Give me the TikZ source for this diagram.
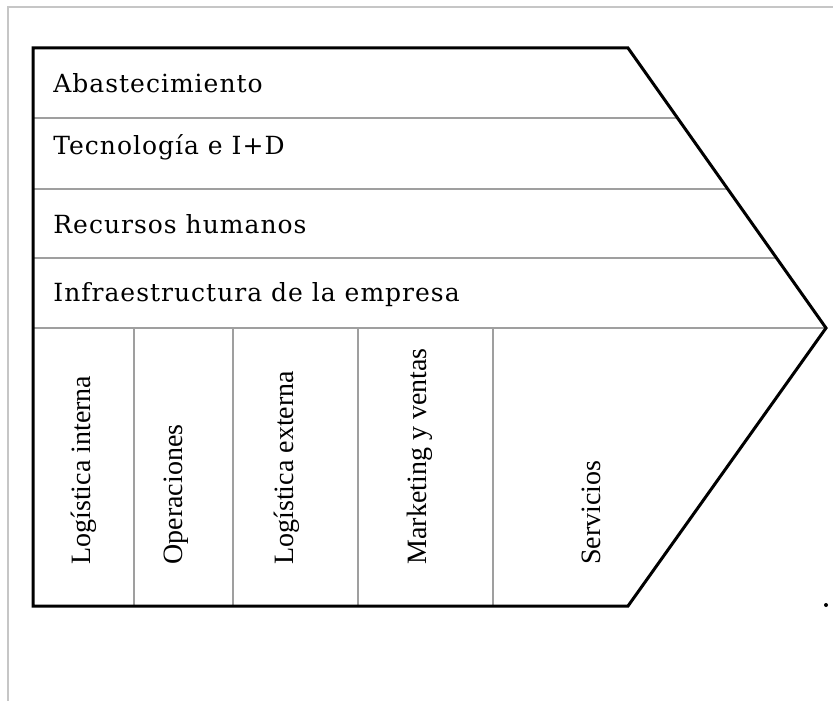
\documentclass[tikz,border=0pt]{standalone}
\usepackage{fontspec}
\setmainfont{DejaVu Serif}
\newfontfamily\rowfont[LetterSpace=4]{DejaVu Serif}
\newfontfamily\colfont{Liberation Serif}
\usetikzlibrary{calc}
\tikzset{
	thick,
	frame/.style = {draw=gray!45, line width=1pt},
	outline/.style = {draw=black, line width=1.5pt, line join=miter},
	divider/.style = {draw=gray!75, line width=0.9pt},
	rowlabel/.style = {
			anchor=base west,
			inner sep = 0pt,
			font = \rowfont\fontsize{12.5}{15}\selectfont,
		},
	collabel/.style = {
			anchor=west,
			rotate=90,
			inner sep = 0pt,
			font = \colfont\fontsize{14}{17}\selectfont,
		}
}

\begin{document}
\begin{tikzpicture}[x=0.5pt, y=-0.5pt]
	\useasboundingbox (0,0) rectangle (833,700);

	% Outer frame of the figure
	\draw[frame] (8,712) -- (8,7) -- (845,7);

	% Corners of the chevron
	\coordinate (tl) at (33,48);
	\coordinate (tr) at (628,48);
	\coordinate (tip) at (826,328);
	\coordinate (br) at (628,606);
	\coordinate (bl) at (33,606);

	% Support activities (rows)
	\foreach \y in {118,189,258,328}
		{   \draw[divider] (33,\y) -- ($(tr)!{(\y-48)/280}!(tip)$);
		}

	% Primary activities (columns)
	\foreach \x in {134,233,358,493}
		{   \draw[divider] (\x,328) -- (\x,606);
		}

	\draw[outline] (tl) -- (tr) -- (tip) -- (br) -- (bl) -- cycle;

	% Row labels
	\node[rowlabel] (abast) at (53,93) {Abastecimiento};
	\node[rowlabel] (tecno) at (53,155) {Tecnología e I+D};
	\node[rowlabel] (rrhh) at (53,233) {Recursos humanos};
	\node[rowlabel] (infra) at (53,301) {Infraestructura de la empresa};

	% Column labels
	\node[collabel] (logint) at (84,565) {Logística interna};
	\node[collabel] (opera) at (176,565) {Operaciones};
	\node[collabel] (logext) at (287,565) {Logística externa};
	\node[collabel] (market) at (420,565) {Marketing y ventas};
	\node[collabel] (servi) at (591,565) {Servicios};

	% Small dot at the lower right
	\fill (826,605) circle (1pt);
\end{tikzpicture}
\end{document}
